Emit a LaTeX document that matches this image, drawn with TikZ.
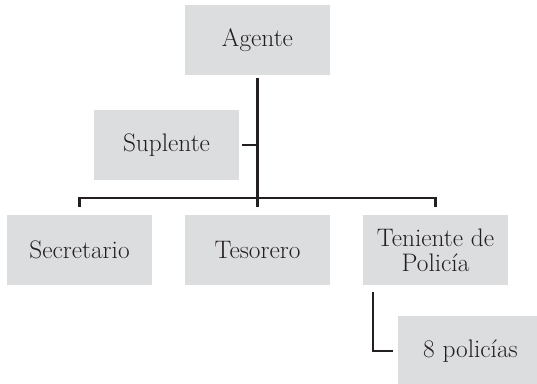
\documentclass[tikz,border=0pt]{standalone}
\usepackage{tikz}
\definecolor{boxgray}{HTML}{DCDDDF}
\definecolor{linegray}{HTML}{231F20}
\begin{document}
\begin{tikzpicture}[x=0.75pt, y=-0.75pt,
  box/.style={fill=boxgray, minimum width=108.75pt, minimum height=52.5pt,
    inner sep=0pt, align=center, text=linegray,
    font=\fontsize{19}{18.5}\selectfont},
  conn/.style={draw=linegray, line width=1.8pt}]
  \useasboundingbox (0,0) rectangle (537,384);

  % Boxes
  \node[box] (agente) at (257.5,40) {Agente};
  \node[box] (suplente) at (166.5,145) {Suplente};
  \node[box] (secretario) at (79.5,250) {Secretario};
  \node[box] (tesorero) at (257.5,250) {Tesorero};
  \node[box] (teniente) at (435.5,250) {Teniente de\\Polic\'ia};
  \node[box] (policias) at (470.5,351) {8 polic\'ias};

  % Connectors
  \coordinate (bar) at (257.5,198);
  \draw[conn] ([yshift=-2.25pt]agente.south) -- ([yshift=6pt]tesorero.north);
  \draw[conn] ([xshift=2.25pt]suplente.east) -- (suplente.east -| agente.south);
  \draw[conn] ([yshift=6pt]secretario.north) |- (bar) -| ([yshift=6pt]teniente.north);
  \draw[conn] ([xshift=7.5pt,yshift=-5.25pt]teniente.south west) |- ([xshift=-3.75pt]policias.west);
\end{tikzpicture}
\end{document}
